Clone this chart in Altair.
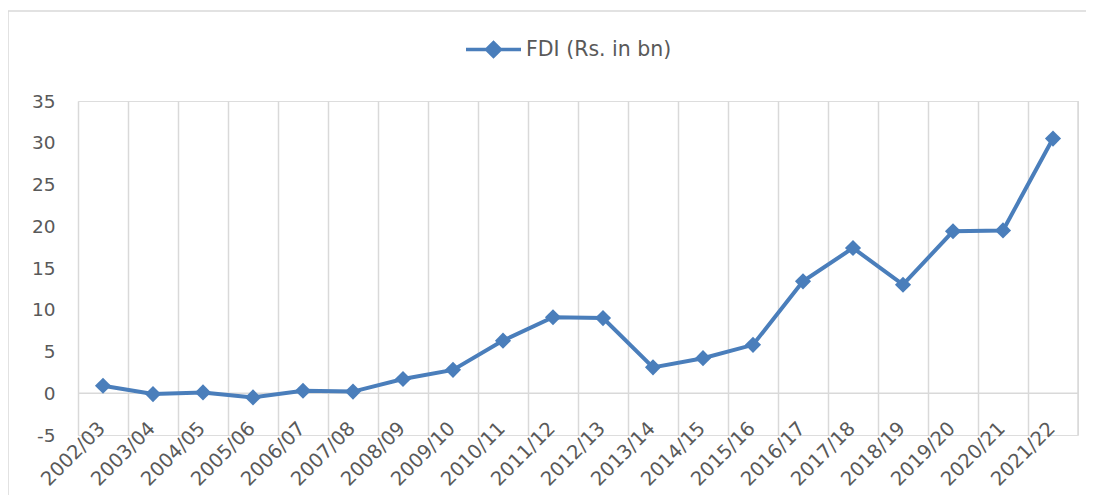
import altair as alt
import pandas as pd

years = ["2002/03", "2003/04", "2004/05", "2005/06", "2006/07", "2007/08", "2008/09",
         "2009/10", "2010/11", "2011/12", "2012/13", "2013/14", "2014/15", "2015/16",
         "2016/17", "2017/18", "2018/19", "2019/20", "2020/21", "2021/22"]
fdi = [0.9, -0.1, 0.1, -0.5, 0.3, 0.2, 1.7, 2.8, 6.3, 9.1, 9.0, 3.1, 4.2, 5.8,
       13.4, 17.4, 13.0, 19.4, 19.5, 30.5]
series_name = "FDI (Rs. in bn)"
y_ticks = [-5, 0, 5, 10, 15, 20, 25, 30, 35]

df = pd.DataFrame({"year": years, "value": fdi, "series": series_name})

W, H = 1000, 334
BLUE = "#4a7ebb"
GRID = "#d9d9d9"
TXT = "#595959"
FONT = "DejaVu Sans"

x_enc = alt.X("year:N", sort=years, bandPosition=0.5,
              scale=alt.Scale(type="band", paddingInner=0, paddingOuter=0),
              axis=alt.Axis(title=None, domain=False, ticks=False, tickSize=0,
                            grid=True, gridColor=GRID, gridWidth=1.5,
                            bandPosition=0, labelOffset=-1, offset=-10,
                            labelAngle=-45, labelAlign="right", labelBaseline="middle",
                            labelPadding=0, labelFont=FONT, labelFontSize=19.5,
                            labelColor=TXT))
y_enc = alt.Y("value:Q",
              scale=alt.Scale(domain=[-5, 35], nice=False, zero=False),
              axis=alt.Axis(title=None, domain=False, ticks=False, grid=False,
                            values=y_ticks, labelPadding=23, labelFont=FONT,
                            labelFontSize=18.5, labelColor=TXT,
                            labelExpr="'' + datum.value"))

base = alt.Chart(df)

line = base.mark_line(color=BLUE, strokeWidth=4).encode(x=x_enc, y=y_enc)

points = base.mark_point(shape="diamond", filled=True, size=260, opacity=1).encode(
    x=alt.X("year:N", sort=years, bandPosition=0.5),
    y="value:Q",
    color=alt.Color("series:N", scale=alt.Scale(range=[BLUE]),
                    legend=alt.Legend(title=None, orient="none", legendX=386, legendY=-81,
                                      symbolType="M-1,0H1M-0.25,0L0,-0.25L0.25,0L0,0.25Z",
                                      symbolSize=3025, symbolStrokeWidth=3.5,
                                      symbolStrokeColor=BLUE, symbolFillColor=BLUE,
                                      labelFont=FONT, labelFontSize=20.5, labelColor=TXT,
                                      labelOffset=3)),
)

deco = alt.Chart(alt.Data(values=[{}]))
zero_rule = deco.mark_rule(color=GRID, strokeWidth=1.5).encode(
    y=alt.Y(datum=0), x=alt.value(0), x2=alt.value(W))
right_grid = deco.mark_rule(color=GRID, strokeWidth=1.5).encode(
    x=alt.value(W), y=alt.value(0), y2=alt.value(H))
border = deco.mark_rect(fill="transparent", stroke=GRID, strokeWidth=1.5).encode(
    x=alt.value(-70), y=alt.value(-90), x2=alt.value(1040), y2=alt.value(500))

chart = alt.layer(border, zero_rule, right_grid, line, points).properties(
    width=W, height=H,
    autosize=alt.AutoSizeParams(type="none"),
    padding={"left": 70, "top": 93, "right": 8, "bottom": 60},
).configure_view(stroke=None).configure(background="white")

chart.save("out.html", embed_options={"renderer": "svg", "actions": False})
